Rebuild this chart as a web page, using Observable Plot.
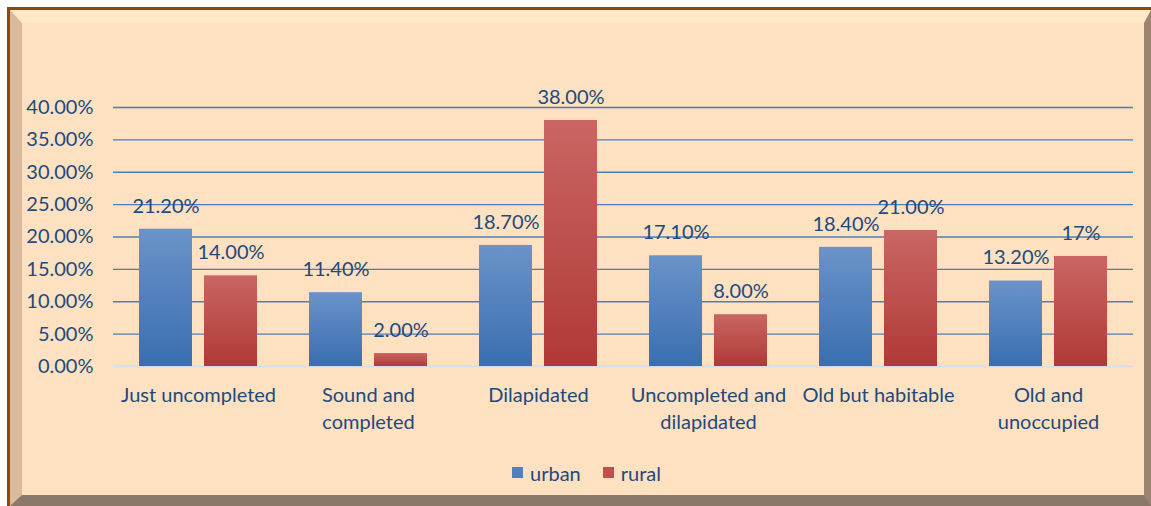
<!DOCTYPE html>
<html><head><meta charset="utf-8">
<script src="https://cdn.jsdelivr.net/npm/d3@7"></script>
<script src="https://cdn.jsdelivr.net/npm/@observablehq/plot@0.6"></script>
<style>
html,body{margin:0;padding:0;background:#fff;width:1151px;height:506px;overflow:hidden;font-family:Lato,sans-serif}
#frame{position:absolute;left:7px;top:7px;width:1144px;height:499px;box-sizing:border-box;border-top:3px solid #8d4a10;border-left:3px solid #8d4a10;}
#panel{position:absolute;left:0;top:0;right:0;bottom:0;box-sizing:border-box;border-left:12px solid #dbb99c;border-top:13px solid #fee8c8;border-right:7px solid #9c846f;border-bottom:11px solid #8a7969;background:#fde1c1;}
#chart{position:absolute;left:0;top:0}
#legend{position:absolute;left:512px;top:456px}
.lg-swatch{margin-right:22px !important}
.lg-swatch>svg{margin-right:7px !important}
</style></head><body>
<div id="frame"><div id="panel"></div></div>
<div id="chart"></div>
<div id="legend"></div>
<script>
const categories = ["Just uncompleted","Sound and\ncompleted","Dilapidated","Uncompleted and\ndilapidated","Old but habitable","Old and\nunoccupied"];
const series = ["urban","rural"];
const urban = [21.2,11.4,18.7,17.1,18.4,13.2];
const rural = [14,2,38,8,21,17];
const urbanLabels = ["21.20%","11.40%","18.70%","17.10%","18.40%","13.20%"];
const ruralLabels = ["14.00%","2.00%","38.00%","8.00%","21.00%","17%"];
const yTicks = [0,5,10,15,20,25,30,35,40];
const colors = ["#4f81bd","#c0504d"];
const textColor = "#1f497d";

const urbanData = categories.map((c,i)=>({category:c, series:"urban", value:urban[i], label:urbanLabels[i]}));
const ruralData = categories.map((c,i)=>({category:c, series:"rural", value:rural[i], label:ruralLabels[i]}));
const data = urbanData.concat(ruralData);

const fs = 20;
const plot = Plot.plot({
  width:1151, height:445,
  marginLeft:113, marginRight:18, marginTop:107, marginBottom:79,
  style:{background:"transparent", fontFamily:"Lato, sans-serif", fontSize:fs+"px", color:textColor, overflow:"visible"},
  fx:{domain:categories, padding:0, label:null, axis:null},
  x:{domain:series, paddingInner:0.19, paddingOuter:0.4, axis:null},
  y:{domain:[0,40], axis:null},
  marks:[
    Plot.ruleY(yTicks.filter(d=>d>0), {stroke:"#4a7ebb", strokeWidth:1.3}),
    Plot.ruleY([0], {stroke:"#d3dde9", strokeWidth:1.3}),
    Plot.axisY({ticks:yTicks, tickFormat:d=>d.toFixed(2)+"%", tickSize:0, tickPadding:20, label:null, fontSize:fs, fill:textColor}),
    Plot.barY(urbanData,{fx:"category", x:"series", y:"value", fill:"url(#gU)"}),
    Plot.barY(ruralData,{fx:"category", x:"series", y:"value", fill:"url(#gR)"}),
    Plot.text(data,{fx:"category", x:"series", y:"value", text:"label", dy:-23, fontSize:fs, fill:textColor}),
    Plot.axisFx({anchor:"bottom", tickSize:0, tickPadding:16, lineAnchor:"top", lineHeight:1.35, label:null, fontSize:fs, fill:textColor})
  ]
});

const svg = d3.select(plot);
const defs = svg.insert("defs", ":first-child");
function grad(id, top, bottom){
  const g = defs.append("linearGradient").attr("id", id).attr("x1",0).attr("y1",0).attr("x2",0).attr("y2",1);
  g.append("stop").attr("offset","0%").attr("stop-color",top);
  g.append("stop").attr("offset","100%").attr("stop-color",bottom);
}
grad("gU","#6a93c9","#3a6eb0");
grad("gR","#c96663","#b03937");
document.getElementById("chart").appendChild(plot);

const legend = Plot.legend({color:{type:"ordinal", domain:series, range:colors}, swatchSize:11, className:"lg",
  style:{fontSize:fs+"px", fontFamily:"Lato, sans-serif", color:textColor, background:"transparent"}});
document.getElementById("legend").appendChild(legend);
</script>
</body></html>
